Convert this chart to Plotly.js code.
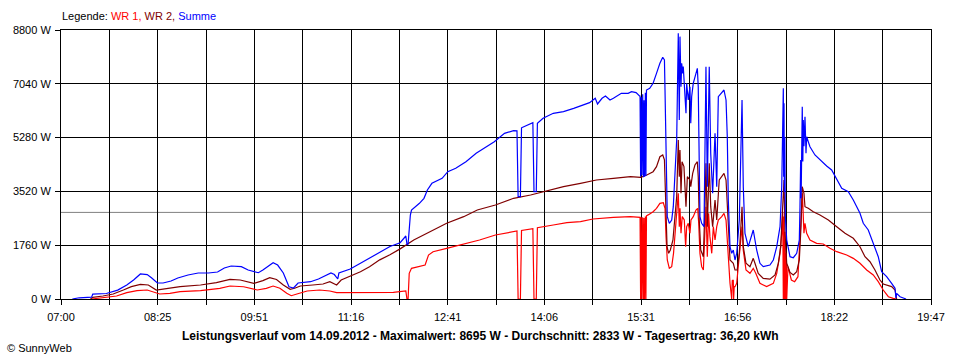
<!DOCTYPE html>
<html><head><meta charset="utf-8">
<script src="https://cdn.plot.ly/plotly-3.0.1.min.js"></script>
<style>html,body{margin:0;padding:0;background:#fff}#chart{width:960px;height:360px}</style>
</head><body><div id="chart"></div>
<script>
// ---- data ----
const xTickLabels = ["07:00","08:25","09:51","11:16","12:41","14:06","15:31","16:56","18:22","19:47"];
const yTickValues = [0,1760,3520,5280,7040,8800];
const seriesNames = ["WR 1","WR 2","Summe"];
const reportDate = "14.09.2012";
const maxW = 8695;
const averageW = 2833;
const dailyKWh = "36,20";

const wr1Times = ["07:27","07:37","07:49","07:58","08:07","08:16","08:21","08:27","08:36","08:45","09:03","09:20","09:29","09:41","09:53","10:01","10:07","10:13","10:19","10:23","10:28","10:37","10:48","10:57","11:03","11:24","11:53","12:04","12:05","12:06","12:07","12:09","12:14","12:21","12:24","12:28","12:40","12:52","13:01","13:09","13:23","13:39","13:42","13:43","13:45","13:46","13:56","13:57","13:59","14:00","14:02","14:14","14:26","14:38","14:49","15:07","15:22","15:30:30","15:31","15:31:30","15:32:10","15:32:50","15:33:30","15:34","15:34:30","15:35:10","15:35:40","15:36:10","15:38","15:42","15:45","15:48","15:51","15:52:30","15:53:24","15:54:30","15:56:18","15:58:24","16:00","16:02","16:04:12","16:05:06","16:05:42","16:06:36","16:07:42","16:09:30","16:10:42","16:11:36","16:13","16:14:30","16:15:24","16:17:24","16:19:48","16:21:18","16:22:12","16:23:18","16:24:48","16:26:18","16:27:42","16:28:36","16:29:48","16:30:54","16:32:06","16:33:42","16:35:06","16:36:36","16:38:06","16:39:30","16:42:30","16:44:30","16:46:18","16:47:54","16:49","16:49:48","16:51:18","16:51:48","16:52:42","16:53:00","16:53:30","16:54:12","16:55:42","16:57:06","16:59:12","17:00:24","17:01:30","17:03:54","17:07:24","17:10:18","17:12:30","17:16:12","17:22:06","17:28","17:31","17:33:54","17:35:24","17:36:18","17:36:48","17:37:18","17:37:48","17:38:18","17:38:48","17:39:18","17:39:48","17:40:18","17:40:54","17:43:54","17:46:48","17:49:42","17:51:12","17:52:42","17:53:36","17:55","17:55:54","17:57:24","18:00:18","18:06:12","18:12","18:17:54","18:23:54","18:32:42","18:38:30","18:44:24","18:50:18","18:56:06","19:00:30","19:04:54","19:09:24","19:13:42","19:16:42"];
const wr1Values = [0,55,98,206,273,294,240,164,186,240,273,350,425,400,294,350,425,350,186,108,164,262,294,262,206,206,219,262,0,0,840,1003,1057,1112,1439,1548,1658,1766,1843,1930,2094,2225,2225,0,0,2240,2300,0,0,2330,2345,2421,2497,2530,2617,2672,2693,2672,0,2672,0,2672,0,2650,0,2700,0,2720,2760,2857,2966,3130,3150,2966,2040,1276,1003,1057,1494,2366,3458,2366,2966,2149,2700,2584,1711,2366,2476,2149,2584,2693,2911,2966,2476,1494,1057,949,2366,3020,1384,2800,2040,1494,2366,1930,2366,2584,2693,2803,2584,1711,840,513,0,600,621,0,404,404,513,1057,1930,2366,1600,949,840,1003,840,513,404,513,840,1494,2149,2857,0,2700,0,2200,0,1500,0,1057,1057,621,567,730,1711,2693,3458,2149,2476,2149,1930,1822,1800,1658,1548,1439,1330,1168,949,785,567,294,75,23,0];

const wr2Times = ["07:26","07:28","07:37","07:46","07:55","08:02","08:10","08:17","08:24","08:33","08:45","09:03","09:17","09:29","09:38","09:50","09:58","10:04","10:10","10:16","10:22","10:26","10:31","10:42","10:51","10:57","11:03","11:07","11:15","11:24","11:32","11:41","11:50","11:59","12:11","12:25","12:40","12:55","13:07","13:23","13:39","13:54","14:05","14:23","14:38","14:52","15:07","15:22","15:31","15:36","15:42","15:45","15:48","15:50:30","15:52","15:53","15:54:18","15:55:42","15:57:12","15:59:30","16:01:18","16:02:48","16:04:12","16:05:06","16:05:42","16:06:36","16:07:30","16:09:12","16:10:06","16:11","16:12:12","16:14:30","16:15:12","16:16:54","16:18:54","16:21","16:21:48","16:22:42","16:24","16:26:18","16:27:42","16:28:36","16:29:48","16:31:30","16:32:48","16:34:30","16:36:36","16:38:06","16:40:18","16:42:30","16:44:30","16:46:18","16:47:24","16:48:42","16:49:48","16:52:42","16:54:12","16:56:06","16:58","16:59:18","17:00:24","17:01:30","17:03:54","17:07:24","17:10:18","17:11:48","17:14:42","17:19:06","17:25","17:29:30","17:32:24","17:34:30","17:36:18","17:37:24","17:38:18","17:39:48","17:42:42","17:45:36","17:48:36","17:50:54","17:52:24","17:53:30","17:55","17:55:54","17:58:48","18:03:12","18:09:06","18:16:30","18:23:54","18:31:12","18:38:30","18:44:24","18:48:48","18:53:12","18:57:36","19:02","19:04:54","19:12:18","19:15:18","19:16:42"];
const wr2Values = [0,55,98,164,294,404,480,458,294,350,404,458,534,643,621,513,600,698,640,458,317,350,425,458,491,567,458,621,752,893,1057,1280,1450,1640,1930,2202,2476,2693,2911,3075,3294,3402,3510,3674,3784,3893,3948,4001,3981,4050,4165,4330,4655,4711,4550,3458,1711,1494,1603,1930,2584,3350,5201,4001,4874,3458,4492,4330,3674,3020,4001,3893,3674,4112,4384,4492,4001,2584,1603,1384,3020,4439,2366,4439,3020,2366,3239,2584,3893,4001,4112,3893,3239,2149,1276,1168,949,949,1494,2366,3020,1711,1168,1057,1330,1168,840,677,650,785,1168,1711,2911,3893,2149,1168,870,785,893,1276,2366,3674,3458,3020,2966,2857,2748,2584,2366,2149,1985,1711,1384,1220,949,621,491,404,294,0];

const sumTimes = ["07:10","07:16","07:27","07:28","07:40","07:42","07:50","07:58","08:04","08:10","08:16","08:20","08:25","08:30","08:37","08:43","08:52","09:01","09:10","09:18","09:24","09:30","09:39","09:45","09:54","09:58","10:03","10:07","10:11","10:16","10:21","10:25","10:29","10:36","10:40","10:47","10:52","10:58","11:01","11:04","11:05","11:08","11:15","11:24","11:33","11:42","11:50","11:59","12:04","12:05","12:06","12:08","12:09","12:16","12:20","12:23","12:27","12:36","12:41","12:48","12:57","13:06","13:15","13:22","13:31","13:39","13:42","13:43","13:45","13:46","13:48","13:56","13:57","13:59","14:00","14:05","14:14","14:23","14:32","14:40","14:46","14:51","14:53","14:57","15:00","15:04","15:07","15:14","15:20","15:23","15:27","15:30","15:30:30","15:31","15:31:30","15:32:10","15:32:50","15:33:30","15:34","15:34:30","15:35:10","15:35:40","15:36:10","15:39","15:42","15:45","15:48","15:50:30","15:52","15:52:30","15:53:24","15:54:30","15:56:18","15:58:24","15:59:48","16:01:18","16:02:48","16:04:12","16:05:06","16:05:42","16:06:36","16:07:12","16:08:06","16:08:36","16:10:06","16:11","16:11:36","16:13","16:14:30","16:15:12","16:16","16:17:24","16:19:48","16:21","16:21:48","16:22:42","16:23:18","16:24:48","16:26:54","16:27:42","16:28:36","16:29:48","16:30:36","16:31:30","16:32:48","16:34:30","16:36:36","16:38:06","16:39:30","16:42:30","16:44:30","16:46:18","16:47:24","16:48:18","16:49:48","16:51:18","16:52:42","16:54:12","16:55:42","16:58","16:59:12","17:00:24","17:01:30","17:03","17:05:54","17:08:54","17:10:18","17:11:48","17:13:18","17:16:12","17:19:06","17:25","17:28","17:31","17:33:54","17:35:24","17:36:18","17:36:48","17:37:06","17:37:24","17:37:42","17:38:06","17:38:36","17:39:48","17:42:42","17:45:36","17:48:36","17:50:54","17:51:30","17:52:06","17:52:30","17:53:00","17:53:30","17:54:00","17:54:24","17:55:00","17:55:54","17:56:48","17:57:24","17:58:48","18:00:18","18:04:42","18:09:06","18:15","18:19:24","18:23:54","18:28:18","18:34:06","18:38:30","18:44:24","18:47:18","18:51:42","18:56:06","19:00:30","19:03:30","19:07:54","19:12:18","19:15:18","19:16:06","19:16:42","19:19:42","19:24:06","19:25"];
const sumValues = [0,40,60,160,180,206,290,458,620,820,800,687,523,523,590,687,785,850,850,883,1014,1080,1060,949,860,949,1080,1188,1110,850,402,360,523,556,566,654,752,850,800,654,850,893,981,1168,1358,1538,1717,1840,2061,1790,1800,2748,2911,3130,3294,3566,3784,3948,4165,4275,4492,4766,4982,5146,5420,5506,5500,3347,3347,5600,5637,5768,3510,3510,5750,5911,6075,6128,6238,6346,6422,6566,6380,6566,6641,6510,6566,6729,6729,6782,6750,6641,6641,4000,6600,4050,6700,3981,6500,4000,6750,4020,6837,6892,7056,7383,7710,7907,7820,6837,5201,2693,2476,2584,3020,4220,5201,8692,5856,8583,6946,7710,7383,7601,6400,6075,7056,6510,6946,5750,6618,7056,7383,7547,6946,4220,2693,2476,2366,4766,7601,3674,5420,7601,4766,3458,5420,3674,6618,6729,6837,6510,5310,3239,1711,1494,1603,1276,1494,2584,4220,6510,3674,2149,1711,2149,2257,1930,1603,1168,1057,1112,1276,1711,2366,3674,5911,6892,4000,6400,3500,5300,2700,1930,1384,1351,1494,1930,3000,4547,3300,5800,6291,4500,5856,5000,5964,4766,5310,5146,4982,4711,4547,4351,4220,3893,3621,3510,3239,2803,2476,2257,1822,1384,893,730,513,350,23,186,75,30,0];

// ---- helpers ----
const START_MIN = 7 * 60;
const SPAN_MIN = 19 * 60 + 47 - START_MIN;   // 767 minutes on the axis
function toMin(s) {
  const p = s.split(':').map(Number);
  return p[0] * 60 + p[1] + (p[2] || 0) / 60 - START_MIN;
}

const colors = ['#ff0000', '#800000', '#0000ff'];
const traces = [
  [wr1Times, wr1Values], [wr2Times, wr2Values], [sumTimes, sumValues]
].map((s, i) => ({
  type: 'scatter', mode: 'lines', name: seriesNames[i],
  x: s[0].map(toMin), y: s[1],
  line: { color: colors[i], width: 1.2, shape: 'linear' },
  hoverinfo: 'skip'
}));

const nGrid = 18;
const xTickVals = [], xTickText = [];
for (let i = 0; i <= nGrid; i++) {
  xTickVals.push(i * SPAN_MIN / nGrid);
  xTickText.push(i % 2 === 0 ? xTickLabels[i / 2] : '');
}

const FONT = 'Liberation Sans, Arial, sans-serif';
const plotL = 61, plotR = 931, plotT = 30, plotB = 299;
const pw = plotR - plotL, ph = plotB - plotT;
const px2paperX = x => (x - plotL) / pw;
const px2paperY = y => (plotB - y) / ph;

const legendText = 'Legende: ' +
  '<span style="color:' + colors[0] + '">' + seriesNames[0] + ',</span> ' +
  '<span style="color:' + colors[1] + '">' + seriesNames[1] + ',</span> ' +
  '<span style="color:' + colors[2] + '">' + seriesNames[2] + '</span>';

const footerText = '<b>Leistungsverlauf vom ' + reportDate + ' - Maximalwert: ' + maxW +
  ' W - Durchschnitt: ' + averageW + ' W - Tagesertrag: ' + dailyKWh + ' kWh</b>';

const axisCommon = {
  showgrid: true, gridcolor: '#000000', gridwidth: 1,
  showline: true, linecolor: '#000000', linewidth: 1, mirror: true,
  ticks: 'outside', ticklen: 5, tickcolor: '#000000', tickwidth: 1,
  zeroline: false, fixedrange: true,
  tickfont: { family: FONT, size: 11, color: '#000' }
};

const layout = {
  width: 960, height: 360,
  margin: { l: plotL, r: 960 - plotR, t: plotT, b: 360 - plotB, pad: 0 },
  paper_bgcolor: '#ffffff', plot_bgcolor: '#ffffff',
  showlegend: false,
  font: { family: FONT, size: 11, color: '#000' },
  xaxis: Object.assign({}, axisCommon, {
    range: [0, SPAN_MIN], tickmode: 'array', tickvals: xTickVals, ticktext: xTickText,
    ticklabelstandoff: 3
  }),
  yaxis: Object.assign({}, axisCommon, {
    range: [0, 8800], tickmode: 'array', tickvals: yTickValues,
    ticktext: yTickValues.map(v => v + ' W'), ticklabelstandoff: 2
  }),
  shapes: [{
    type: 'line', xref: 'paper', x0: 0, x1: 1, yref: 'y', y0: averageW, y1: averageW,
    line: { color: '#808080', width: 1 }, layer: 'between'
  }],
  annotations: [
    { text: legendText, xref: 'paper', yref: 'paper', x: px2paperX(60), y: px2paperY(16),
      xanchor: 'left', yanchor: 'middle', showarrow: false, font: { family: FONT, size: 11, color: '#000' } },
    { text: footerText, xref: 'paper', yref: 'paper', x: px2paperX(480), y: px2paperY(336),
      xanchor: 'center', yanchor: 'middle', showarrow: false, font: { family: FONT, size: 12, color: '#000' } },
    { text: '© SunnyWeb', xref: 'paper', yref: 'paper', x: px2paperX(5), y: px2paperY(348),
      xanchor: 'left', yanchor: 'middle', showarrow: false, font: { family: FONT, size: 11, color: '#000' } }
  ]
};

Plotly.newPlot('chart', traces, layout, { staticPlot: true, displayModeBar: false });
</script>
</body></html>
